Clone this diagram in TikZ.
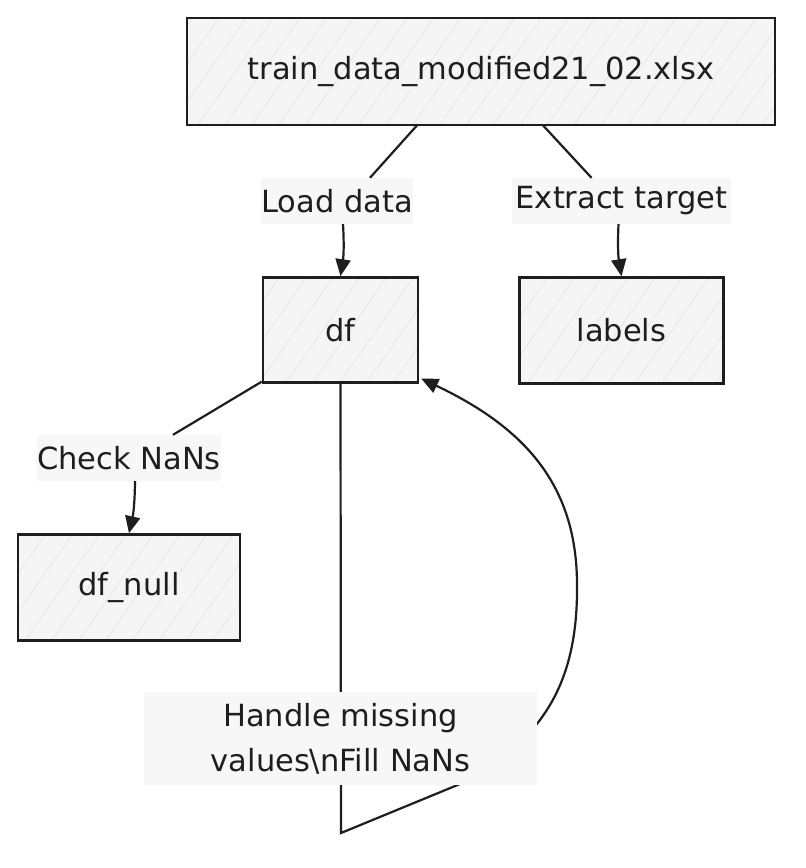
\documentclass[tikz,border=0pt]{standalone}
\usepackage{fontspec}
\setmainfont{DejaVu Sans}
\usepackage{tikz}
\usetikzlibrary{arrows.meta,patterns.meta,positioning}
\definecolor{ink}{HTML}{1E1E1E}

\begin{document}
\begin{tikzpicture}[
  x=1pt, y=-1pt,
  node distance=52pt and 40pt,
  box/.style={rectangle, draw=ink, line width=2.4pt, preaction={fill=black!4}, pattern={Lines[angle=55,distance=22pt,line width=0.7pt]}, pattern color=black!10, font=\fontsize{30.5pt}{38pt}\selectfont, text=ink, align=center},
  tag/.style={rectangle, fill=black!3, minimum height=46pt, inner sep=0pt, font=\fontsize{30.5pt}{45pt}\selectfont, text=ink, align=center},
  link/.style={line width=2.2pt, ink},
  arrow/.style={-{Triangle[length=17pt,width=15pt]}, line width=2.2pt, ink}
]
\useasboundingbox (0,0) rectangle (806,868);

% Top: source file
\node[box, minimum width=588pt, minimum height=107pt] (xlsx) at (481,71.5) {train\_data\_modified21\_02.xlsx};

% Edge labels under the file
\node[tag, minimum width=150pt] (load) at (337,201) {Load data};
\node[tag, minimum width=219pt] (extract) at (621.5,201) {Extract target};

% Second row: data frames
\node[box, minimum width=155pt, minimum height=105pt, below=52pt of load, xshift=3.5pt] (df) {df};
\node[box, minimum width=204pt, minimum height=106pt, below=52pt of extract] (labels) {labels};

% Null check branch
\node[tag, minimum width=178pt] (check) at (129,458) {Check NaNs};
\node[box, minimum width=222pt, minimum height=106pt, below=52pt of check] (dfnull) {df\_null};

% Arrows
\draw[link] ([xshift=-64pt]xlsx.south) -- ([xshift=33pt]load.north);
\draw[arrow] ([xshift=6pt]load.south) to[bend left=6] (df.north);
\draw[link] ([xshift=62pt]xlsx.south) -- ([xshift=-30pt]extract.north);
\draw[arrow] ([xshift=-3pt]extract.south) to[bend right=6] (labels.north);
\draw[link] ([yshift=2pt]df.south west) -- ([xshift=44pt]check.north);
\draw[arrow] ([xshift=6pt]check.south) to[bend left=6] (dfnull.north);

% Loop back into df
\coordinate (bend) at (341,833);
\coordinate (loopin) at (460,784);
\coordinate (loopside) at (577,585);
\draw[arrow] (df.south) -- (bend) -- (loopin)
  .. controls (545,740) and (578,680) .. (loopside)
  .. controls (577,490) and (530,430) .. ([xshift=2pt,yshift=5pt]df.south east);
\node[tag, minimum width=393pt, minimum height=93pt] (fill) at (340.5,738.5) {Handle missing\\values\textbackslash nFill NaNs};

\end{tikzpicture}
\end{document}
